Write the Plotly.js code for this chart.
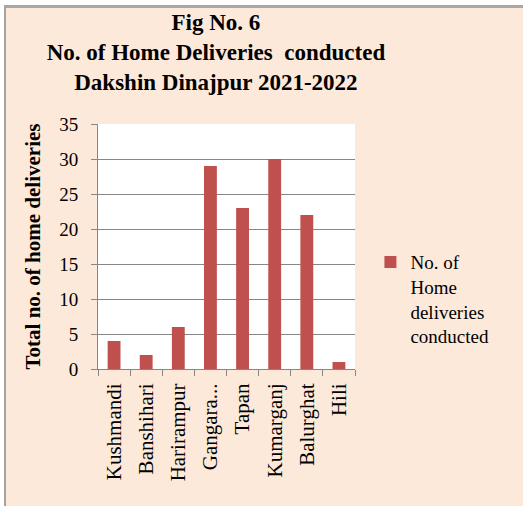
<!DOCTYPE html>
<html>
<head>
<meta charset="utf-8">
<script src="https://cdn.plot.ly/plotly-3.0.1.min.js"></script>
<style>
  html, body { margin: 0; padding: 0; background: #ffffff; width: 523px; height: 506px; overflow: hidden; }
  #frame { position: absolute; left: 4px; top: 5px; width: 519px; height: 501px;
           border-left: 2px solid #a3a3a3; border-top: 3px solid #a8a8a8; box-sizing: border-box; }
  #chart { position: absolute; left: 6px; top: 8px; width: 517px; height: 498px; }
</style>
</head>
<body>
<div id="frame"></div>
<div id="chart"></div>
<script>
const blocks = ["Kushmandi", "Banshihari", "Harirampur", "Gangara...", "Tapan", "Kumarganj", "Balurghat", "Hili"];
const homeDeliveries = [4, 2, 6, 29, 23, 30, 22, 1];
const seriesName = "No. of<br>Home<br>deliveries<br>conducted";
const yTicks = [0, 5, 10, 15, 20, 25, 30, 35];

const serif = "'Liberation Serif', 'Times New Roman', serif";

const trace = {
  type: "bar",
  x: blocks,
  y: homeDeliveries,
  name: seriesName,
  marker: { color: "#C0504D" },
  showlegend: true,
  hoverinfo: "x+y"
};

const layout = {
  width: 517,
  height: 498,
  paper_bgcolor: "#FDE9D9",
  plot_bgcolor: "#FFFFFF",
  margin: { l: 92, r: 168, t: 116, b: 137, pad: 0 },
  bargap: 0.6,
  font: { family: serif, color: "#000000", size: 19 },
  title: {
    text: "<b>Fig No. 6<br>No. of Home Deliveries  conducted<br>Dakshin Dinajpur 2021-2022</b>",
    font: { family: serif, size: 23, color: "#000000" },
    xref: "container", x: 0.406, xanchor: "center",
    yref: "container", y: 0.955, yanchor: "top"
  },
  xaxis: {
    type: "category",
    tickangle: -90,
    tickson: "boundaries",
    ticks: "outside",
    ticklen: 6,
    tickcolor: "#868686",
    showline: true,
    linecolor: "#868686",
    linewidth: 1,
    showgrid: false,
    ticklabelstandoff: 5,
    tickfont: { family: serif, size: 21, color: "#000000" }
  },
  yaxis: {
    range: [0, 35],
    tickvals: yTicks,
    ticks: "outside",
    ticklen: 6,
    tickcolor: "#868686",
    showline: true,
    linecolor: "#868686",
    linewidth: 1,
    showgrid: true,
    gridcolor: "#868686",
    gridwidth: 1,
    zeroline: false,
    ticklabelstandoff: 9,
    tickfont: { family: serif, size: 19, color: "#000000" },
    title: {
      text: "<b>Total no. of home deliveries</b>",
      font: { family: serif, size: 21, color: "#000000" },
      standoff: 12
    }
  },
  legend: {
    x: 1.06, xanchor: "left",
    y: 0.514, yanchor: "top",
    valign: "top",
    bgcolor: "rgba(0,0,0,0)",
    font: { family: serif, size: 19, color: "#000000" },
    itemwidth: 30
  }
};

Plotly.newPlot("chart", [trace], layout, { displayModeBar: false, staticPlot: true });
</script>
</body>
</html>
